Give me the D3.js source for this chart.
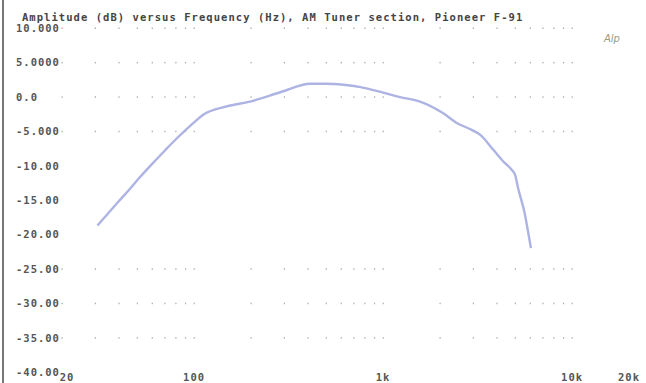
<!DOCTYPE html>
<html>
<head>
<meta charset="utf-8">
<script src="https://cdn.jsdelivr.net/npm/d3@7"></script>
<style>
  body { margin: 0; background: #fff; }
  svg text { font-family: "DejaVu Sans Mono", monospace; font-weight: bold; }
</style>
</head>
<body>
<div id="chart"></div>
<script>
// data
var freqs = [30.8, 39.6, 45.7, 51.6, 59.3, 70.1, 80.6, 101, 111.7, 148.8, 197, 294, 410, 500, 617, 760,
             1000, 1228, 1568, 2080, 2450, 2943, 3255, 3829, 4327, 4790, 4988, 5180, 5607, 5865, 6055];
var levels = [-18.7, -15.3, -13.4, -11.7, -9.9, -7.8, -6.1, -3.6, -2.6, -1.4, -0.7, 0.77, 1.9, 1.9, 1.75, 1.4,
              0.6, -0.05, -0.7, -2.4, -3.8, -4.8, -5.5, -7.7, -9.4, -10.6, -11.3, -13.3, -16.9, -19.8, -22.0];
var yTicks = [10, 5, 0, -5, -10, -15, -20, -25, -30, -35, -40];
var yTickLabels = ["10.000", "5.0000", "0.0", "-5.000", "-10.00", "-15.00", "-20.00", "-25.00", "-30.00", "-35.00", "-40.00"];
var xTicks = [20, 100, 1000, 10000, 20000];
var xTickLabels = ["20", "100", "1k", "10k", "20k"];
var gridRows = [10, 5, 0, -5, -25, -30, -35];
var title = "Amplitude (dB) versus Frequency (Hz), AM Tuner section, Pioneer F-91";

var width = 646, height = 383;

var x = d3.scaleLog().domain([20, 20000]).range([62, 629]);
var y = d3.scaleLinear().domain([-40, 10]).range([372, 28]);

var svg = d3.select("#chart").append("svg")
    .attr("width", width)
    .attr("height", height);

// scan edge on the left
svg.append("line")
    .attr("x1", 3).attr("x2", 3).attr("y1", 0).attr("y2", height)
    .style("stroke", "#777").style("stroke-width", 2);

// title
svg.append("text")
    .attr("x", 22).attr("y", 21)
    .style("font-size", "10.5px")
    .style("letter-spacing", "1.05px")
    .style("fill", "#444")
    .text(title);

// dotted grid: minor log positions on a few rows
var gridFreqs = [];
[10, 100, 1000].forEach(function(dec) {
  for (var k = 1; k < 10; k++) {
    var f = dec * k;
    if (f >= 20) gridFreqs.push(f);
  }
});
gridFreqs.push(10000);

var dots = [];
gridRows.forEach(function(r) {
  gridFreqs.forEach(function(f) { dots.push({f: f, r: r}); });
});
svg.selectAll("rect.dot").data(dots).enter().append("rect")
    .attr("class", "dot")
    .attr("x", function(d) { return x(d.f) - 0.5; })
    .attr("y", function(d) { return y(d.r) - 0.5; })
    .attr("width", 1.2).attr("height", 1.5)
    .style("fill", "#aaa");

// y labels
svg.selectAll("text.ylab").data(yTicks).enter().append("text")
    .attr("class", "ylab")
    .attr("x", 16)
    .attr("y", function(d) { return y(d) + 4; })
    .style("font-size", "10.5px")
    .style("letter-spacing", "1px")
    .style("fill", "#555")
    .text(function(d, i) { return yTickLabels[i]; });

// x labels
svg.selectAll("text.xlab").data(xTicks).enter().append("text")
    .attr("class", "xlab")
    .attr("x", function(d, i) { return i == 0 ? x(d) + 5 : x(d); })
    .attr("y", 381)
    .attr("text-anchor", "middle")
    .style("font-size", "10.5px")
    .style("letter-spacing", "1px")
    .style("fill", "#555")
    .text(function(d, i) { return xTickLabels[i]; });

// Audio Precision mark
svg.append("text")
    .attr("x", 604).attr("y", 42)
    .style("font-family", "DejaVu Sans, sans-serif")
    .style("font-weight", "normal")
    .style("font-style", "italic")
    .style("font-size", "10px")
    .style("fill", "#9a9a80")
    .text("Alp");

// response curve
var pts = freqs.map(function(f, i) { return [f, levels[i]]; });
var line = d3.line()
    .x(function(d) { return x(d[0]); })
    .y(function(d) { return y(d[1]); })
    .curve(d3.curveMonotoneX);

svg.append("path")
    .datum(pts)
    .attr("d", line)
    .style("fill", "none")
    .style("stroke", "#adb3e3")
    .style("stroke-width", 2.4)
    .style("stroke-linejoin", "round");
</script>
</body>
</html>
